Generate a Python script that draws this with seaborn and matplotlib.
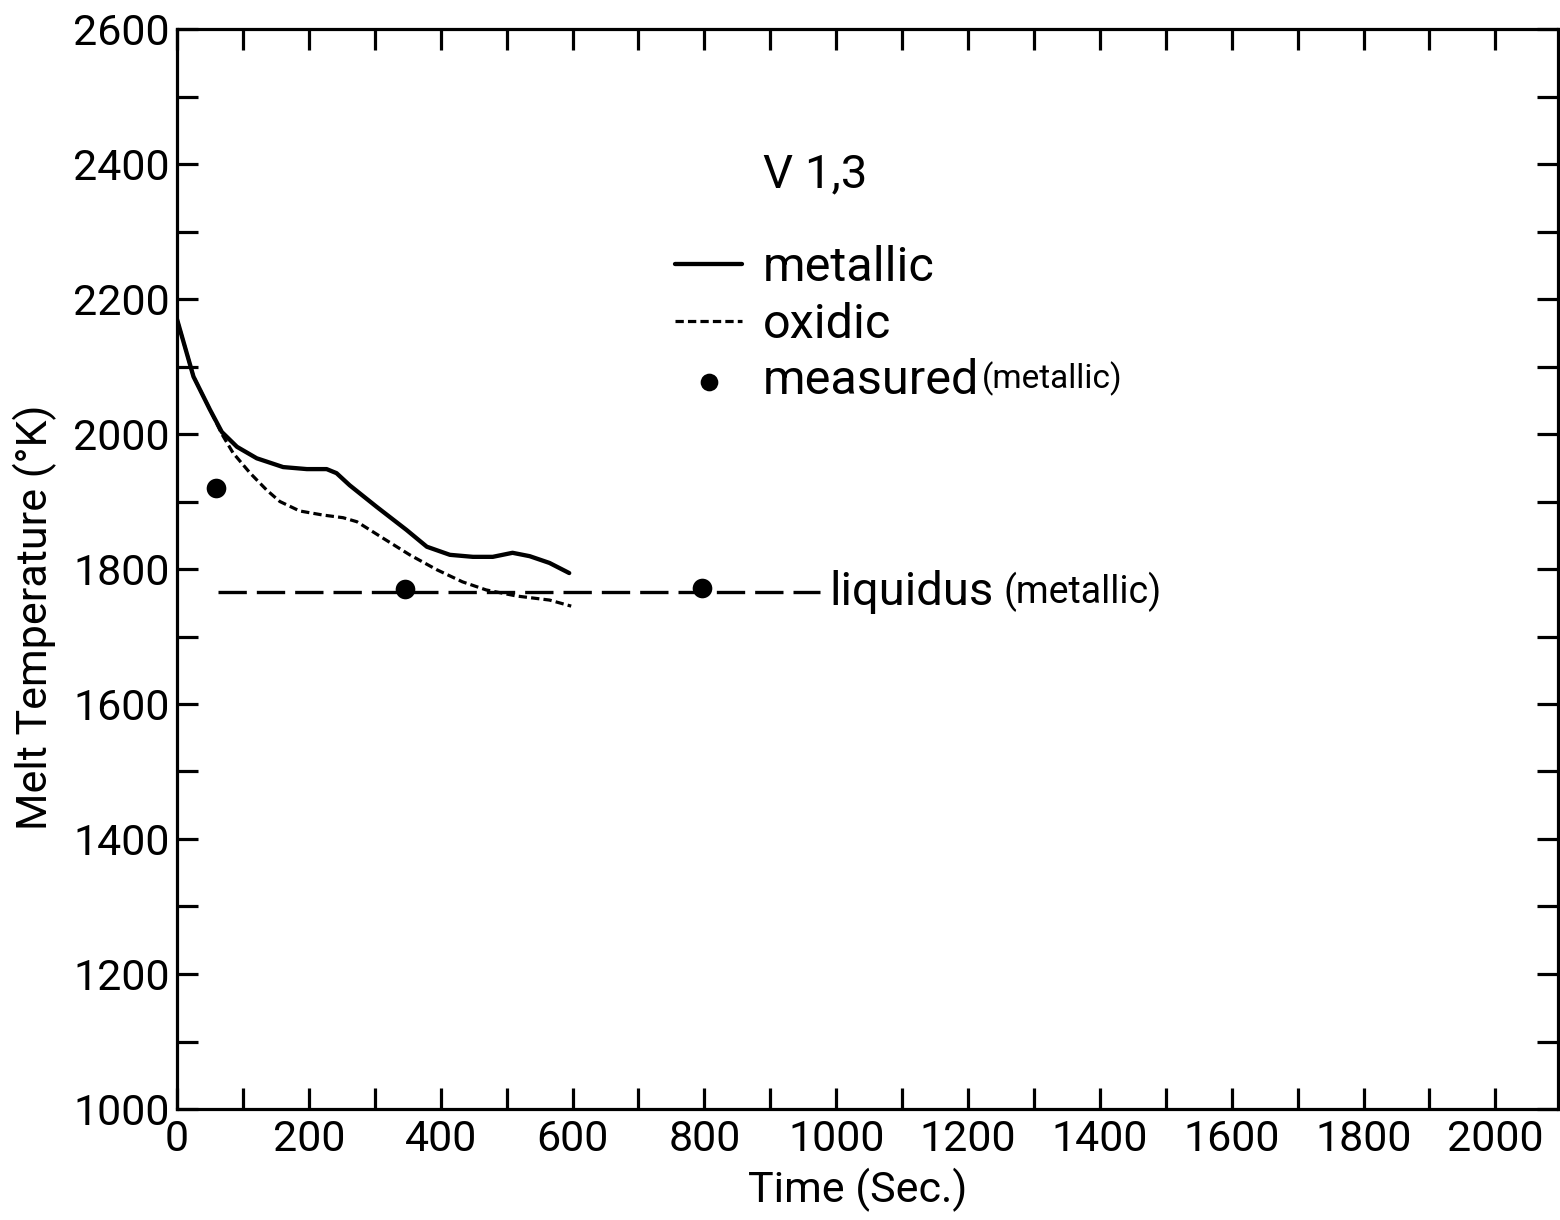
import matplotlib
matplotlib.use("Agg")
import matplotlib.pyplot as plt
from matplotlib.ticker import MultipleLocator
import seaborn as sns

# Computed melt temperature of the metallic layer (time in s, temperature in K)
METALLIC_T = [0, 25, 50, 68, 91, 121, 161, 197, 227, 242, 262, 303, 348, 379,
              414, 449, 479, 509, 535, 565, 595]
METALLIC_K = [2170, 2085, 2036, 2003, 1981, 1964, 1951, 1948, 1948, 1942, 1924,
              1892, 1858, 1833, 1821, 1818, 1818, 1824, 1819, 1809, 1794]

# Computed melt temperature of the oxidic layer
OXIDIC_T = [0, 25, 50, 68, 85, 111, 136, 156, 186, 221, 252, 273, 312, 353,
            394, 433, 469, 515, 565, 598]
OXIDIC_K = [2170, 2085, 2036, 2000, 1972, 1942, 1917, 1900, 1886, 1880, 1876,
            1870, 1846, 1821, 1799, 1781, 1769, 1760, 1754, 1745]

# Measured temperatures (metallic)
MEASURED_T = [59, 346, 797]
MEASURED_K = [1920, 1770, 1772]

# Liquidus temperature of the metallic melt
LIQUIDUS_T = [62, 975]
LIQUIDUS_K = [1766, 1766]

X_TICKS = list(range(0, 2001, 200))
Y_TICKS = list(range(1000, 2601, 200))

sns.set_theme(style="ticks")
plt.rcParams["font.family"] = ["Roboto", "DejaVu Sans"]
plt.rcParams["axes.linewidth"] = 2.3

fig = plt.figure(figsize=(15.6, 12.2), dpi=100)
ax = fig.add_axes([177 / 1560, 1 - 1109 / 1220, 1381 / 1560, 1080 / 1220])

INK = "black"
sns.lineplot(x=METALLIC_T, y=METALLIC_K, ax=ax, color=INK, lw=3.1,
             sort=False, estimator=None, label="metallic")
sns.lineplot(x=OXIDIC_T, y=OXIDIC_K, ax=ax, color=INK, lw=2.3,
             linestyle=(0, (2.6, 1.3)), sort=False, estimator=None, label="oxidic")
sns.lineplot(x=LIQUIDUS_T, y=LIQUIDUS_K, ax=ax, color=INK, lw=2.4,
             linestyle=(0, (8.5, 3.0)), sort=False, estimator=None)
sns.scatterplot(x=MEASURED_T, y=MEASURED_K, ax=ax, color=INK, s=200,
                edgecolor=INK, linewidth=0, zorder=5, label="measured")

ax.set_xlim(0, 2095)
ax.set_ylim(1000, 2600)
ax.set_xticks(X_TICKS)
ax.set_yticks(Y_TICKS)
ax.xaxis.set_minor_locator(MultipleLocator(100))
ax.yaxis.set_minor_locator(MultipleLocator(100))
ax.tick_params(which="both", direction="in", top=True, right=True,
               length=15, width=2.3, colors=INK)
ax.tick_params(axis="x", which="major", pad=7, labelsize=31)
ax.tick_params(axis="y", which="major", pad=5, labelsize=31)
for s in ax.spines.values():
    s.set_color(INK)

ax.set_xlabel("Time (Sec.)", fontsize=31, labelpad=6, x=0.493, color=INK)
ax.set_ylabel("Melt Temperature (°K)", fontsize=31, labelpad=12, y=0.455,
              color=INK)

# Case label and key
ax.text(0.462, 0.865, "V 1,3", transform=ax.transAxes, fontsize=34,
        ha="center", va="center", color=INK)
leg = ax.legend(loc="upper left", bbox_to_anchor=(0.3606, 0.80), frameon=False,
                fontsize=35, handlelength=1.38, handletextpad=0.43,
                labelspacing=0.22, borderpad=0, borderaxespad=0,
                markerscale=0.9)
for t in leg.get_texts():
    t.set_color(INK)
ax.annotate("(metallic)", xy=(1, 0.5), xycoords=leg.get_texts()[2],
            xytext=(2, 2), textcoords="offset points", fontsize=24,
            va="center", ha="left", color=INK, zorder=8)

# Label at the end of the liquidus line
liq = ax.annotate("liquidus", xy=(LIQUIDUS_T[-1], LIQUIDUS_K[-1]),
                  xytext=(7, 0), textcoords="offset points", fontsize=34,
                  va="center", ha="left", color=INK, zorder=8)
ax.annotate("(metallic)", xy=(1, 0.5), xycoords=liq, xytext=(7, 0),
            textcoords="offset points", fontsize=27, va="center", ha="left",
            color=INK, zorder=9)

fig.savefig("out.png", dpi=100)
